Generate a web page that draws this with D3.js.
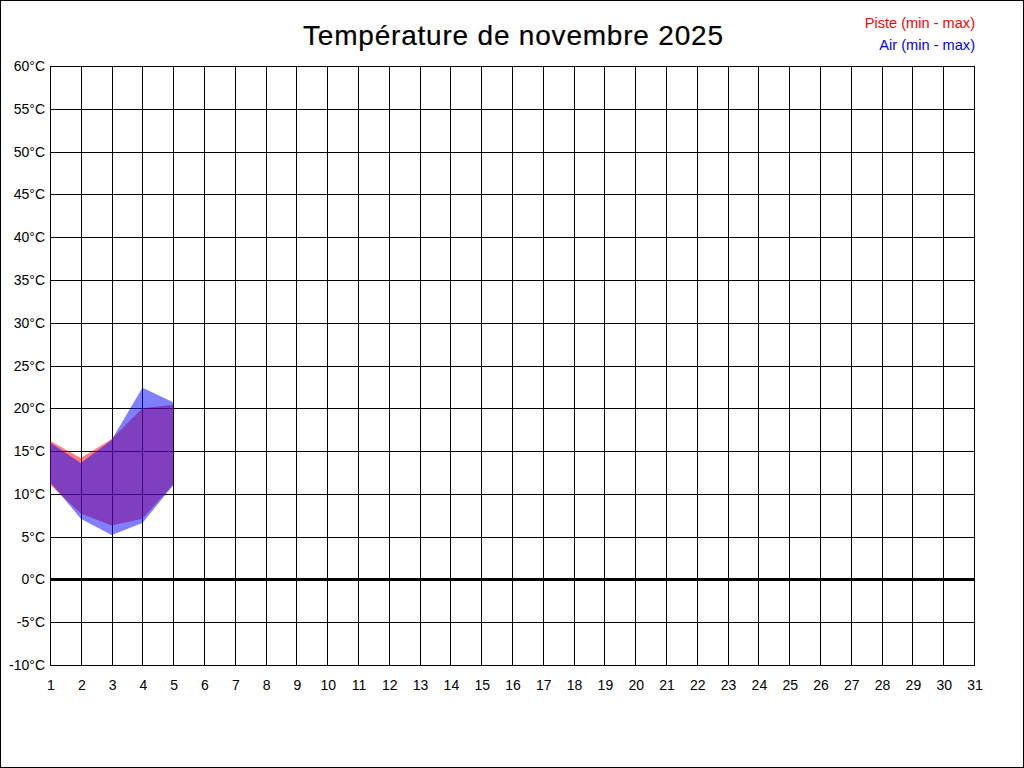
<!DOCTYPE html>
<html>
<head>
<meta charset="utf-8">
<script src="https://cdn.jsdelivr.net/npm/d3@7"></script>
<style>
  body { margin: 0; background: #fff; }
  svg { display: block; font-family: "Liberation Sans", Arial, sans-serif; }
</style>
</head>
<body>
<div id="chart"></div>
<script>
// températures relevées (°C) par jour de novembre
const days = [1, 2, 3, 4, 5];
const pisteMin = [11.1, 7.7, 6.3, 7.1, 11.1];
const pisteMax = [16.2, 14.2, 16.4, 20.0, 20.4];
const airMin = [11.4, 7.1, 5.2, 6.6, 11.0];
const airMax = [16.0, 13.6, 16.3, 22.4, 20.7];

const dayTicks = d3.range(1, 32);
const tempTicks = d3.range(-10, 61, 5);
const title = "Température de novembre 2025";
const legendLabels = ["Piste (min - max)", "Air (min - max)"];

const W = 1024, H = 768;
const x = d3.scaleLinear().domain([1, 31]).range([50, 974]);
const y = d3.scaleLinear().domain([-10, 60]).range([665, 66]);
const px = v => Math.round(v) + 0.5;

const svg = d3.select("#chart").append("svg")
    .attr("width", W)
    .attr("height", H);

svg.append("rect")
    .attr("x", 0.5).attr("y", 0.5)
    .attr("width", W - 1).attr("height", H - 1)
    .attr("fill", "#fff").attr("stroke", "#000");

// grille
const grid = svg.append("g").attr("shape-rendering", "crispEdges");
grid.selectAll(".v")
    .data(dayTicks)
  .enter().append("line")
    .attr("x1", d => px(x(d))).attr("x2", d => px(x(d)))
    .attr("y1", y(60)).attr("y2", px(y(-10)))
    .attr("stroke", "#000");
grid.selectAll(".h")
    .data(tempTicks)
  .enter().append("line")
    .attr("x1", x(1)).attr("x2", px(x(31)))
    .attr("y1", d => px(y(d))).attr("y2", d => px(y(d)))
    .attr("stroke", "#000");

// libellés des axes
svg.append("g").selectAll("text")
    .data(tempTicks)
  .enter().append("text")
    .attr("x", 45)
    .attr("y", d => y(d) + 5)
    .attr("text-anchor", "end")
    .attr("font-size", 14)
    .attr("fill", "#000")
    .text(d => d + "°C");

svg.append("g").selectAll("text")
    .data(dayTicks)
  .enter().append("text")
    .attr("x", d => x(d) + 1)
    .attr("y", 690)
    .attr("text-anchor", "middle")
    .attr("font-size", 14)
    .attr("fill", "#000")
    .text(d => d);

// zones min - max
const area = (mins, maxs) => d3.area()
    .x((d, i) => x(d))
    .y0((d, i) => y(mins[i]))
    .y1((d, i) => y(maxs[i]));

svg.append("path")
    .datum(days)
    .attr("d", area(pisteMin, pisteMax))
    .attr("fill", "rgba(255,0,0,0.5)");

svg.append("path")
    .datum(days)
    .attr("d", area(airMin, airMax))
    .attr("fill", "rgba(0,0,255,0.5)");

// ligne du zéro
svg.append("line")
    .attr("x1", x(1)).attr("x2", x(31) + 1)
    .attr("y1", Math.round(y(0)) + 0.5).attr("y2", Math.round(y(0)) + 0.5)
    .attr("stroke", "#000")
    .attr("stroke-width", 3)
    .attr("shape-rendering", "crispEdges");

// titre
svg.append("text")
    .attr("x", 513)
    .attr("y", 45)
    .attr("text-anchor", "middle")
    .attr("font-size", 28)
    .attr("textLength", 420)
    .attr("lengthAdjust", "spacing")
    .attr("fill", "#000")
    .attr("stroke", "#000")
    .attr("stroke-width", 0.2)
    .text(title);

// légende
svg.append("g").selectAll("text")
    .data(legendLabels)
  .enter().append("text")
    .attr("x", 975)
    .attr("y", (d, i) => 28 + i * 21.5)
    .attr("text-anchor", "end")
    .attr("font-size", 14.6)
    .attr("fill", (d, i) => i === 0 ? "#ff0000" : "#0000ff")
    .text(d => d);
</script>
</body>
</html>
